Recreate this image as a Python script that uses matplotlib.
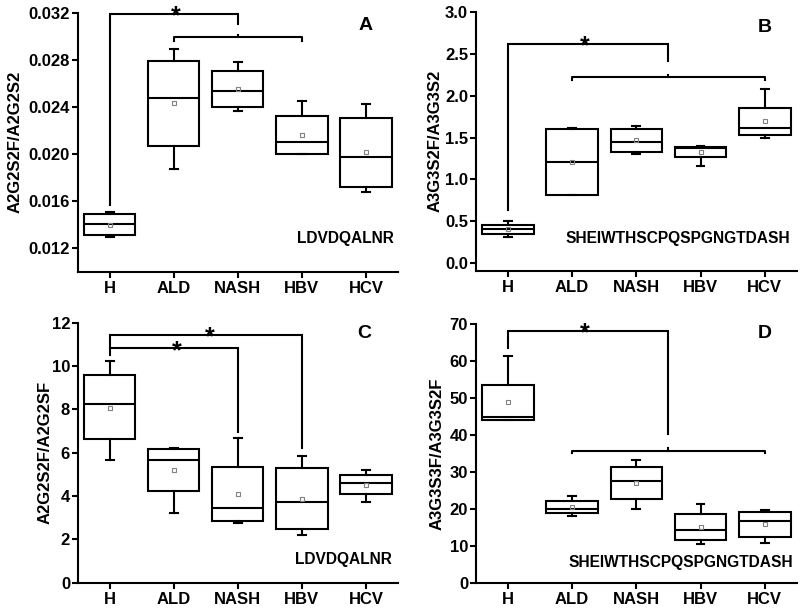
import matplotlib
matplotlib.use("Agg")
import matplotlib.pyplot as plt
from matplotlib.ticker import FormatStrFormatter

plt.rcParams['font.family'] = ['Liberation Sans', 'DejaVu Sans']
plt.rcParams['font.weight'] = 'bold'
plt.rcParams['axes.labelweight'] = 'bold'

categories = ['H', 'ALD', 'NASH', 'HBV', 'HCV']

# Panel A: A2G2S2F/A2G2S2 (LDVDQALNR)
a_lo   = [0.01298, 0.01875, 0.02365, 0.02000, 0.01675]
a_q1   = [0.01312, 0.02068, 0.02399, 0.02000, 0.01717]
a_med  = [0.01403, 0.02476, 0.02535, 0.02104, 0.01977]
a_q3   = [0.01488, 0.02792, 0.02705, 0.02325, 0.02308]
a_hi   = [0.01505, 0.02892, 0.02779, 0.02450, 0.02422]
a_mean = [0.01400, 0.02430, 0.02550, 0.02164, 0.02014]

# Panel B: A3G3S2F/A3G3S2 (SHEIWTHSCPQSPGNGTDASH)
b_lo   = [0.317, 0.812, 1.300, 1.165, 1.492]
b_q1   = [0.346, 0.815, 1.325, 1.265, 1.531]
b_med  = [0.406, 1.205, 1.451, 1.376, 1.611]
b_q3   = [0.457, 1.603, 1.603, 1.391, 1.857]
b_hi   = [0.508, 1.611, 1.642, 1.403, 2.076]
b_mean = [0.410, 1.205, 1.471, 1.332, 1.698]

# Panel C: A2G2S2F/A2G2SF (LDVDQALNR)
c_lo   = [5.66, 3.23, 2.77, 2.22, 3.71]
c_q1   = [6.62, 4.23, 2.86, 2.46, 4.08]
c_med  = [8.23, 5.66, 3.45, 3.72, 4.60]
c_q3   = [9.57, 6.16, 5.35, 5.28, 4.96]
c_hi   = [10.24, 6.23, 6.69, 5.85, 5.19]
c_mean = [8.08, 5.20, 4.11, 3.88, 4.51]

# Panel D: A3G3S3F/A3G3S2F (SHEIWTHSCPQSPGNGTDASH)
d_lo   = [44.0, 18.25, 19.96, 10.5, 10.9]
d_q1   = [44.1, 18.9, 22.85, 11.7, 12.5]
d_med  = [44.97, 20.05, 27.7, 14.4, 16.7]
d_q3   = [53.5, 22.3, 31.5, 18.7, 19.3]
d_hi   = [61.4, 23.6, 33.4, 21.3, 19.7]
d_mean = [48.85, 20.7, 27.07, 15.1, 16.1]

ylabels = ['A2G2S2F/A2G2S2', 'A3G3S2F/A3G3S2', 'A2G2S2F/A2G2SF', 'A3G3S3F/A3G3S2F']
panel_letters = ['A', 'B', 'C', 'D']
peptides = ['LDVDQALNR', 'SHEIWTHSCPQSPGNGTDASH', 'LDVDQALNR', 'SHEIWTHSCPQSPGNGTDASH']

fig = plt.figure(figsize=(8, 6.08), dpi=100)

LW = 1.5


def draw_box(ax, lo, q1, med, q3, hi, mean):
    stats = []
    for c, l, a, m, b, h, mu in zip(categories, lo, q1, med, q3, hi, mean):
        stats.append(dict(label=c, whislo=l, q1=a, med=m, q3=b, whishi=h,
                          mean=mu, fliers=[]))
    pos = list(range(1, len(categories) + 1))
    ax.bxp(stats, positions=pos, widths=0.8, showmeans=True, showfliers=False,
           patch_artist=True, capwidths=0.12,
           boxprops=dict(facecolor='white', edgecolor='black', linewidth=LW),
           medianprops=dict(color='black', linewidth=LW),
           whiskerprops=dict(color='black', linewidth=LW),
           capprops=dict(color='black', linewidth=LW),
           meanprops=dict(marker='s', markerfacecolor='none',
                          markeredgecolor='#808080', markersize=3.2,
                          markeredgewidth=0.8))


def sig_bracket(ax, x1, x2, y, y1, y2):
    ax.plot([x1, x1, x2, x2], [y1, y, y, y2], color='black', lw=LW,
            clip_on=False, solid_joinstyle='miter')


def group_bracket(ax, x1, x2, y, dn, up):
    xm = (x1 + x2) / 2
    ax.plot([x1, x1, x2, x2], [y - dn, y, y, y - dn], color='black', lw=LW,
            clip_on=False)
    ax.plot([xm, xm], [y, y + up], color='black', lw=LW, clip_on=False)


def star(ax, x, y):
    ax.annotate('*', xy=(x, y), xytext=(0, -7), textcoords='offset points',
                ha='center', va='baseline', fontsize=18, fontweight='bold',
                annotation_clip=False)


def style(ax, ylim, ticks, fmt, ylab, labx):
    ax.set_xlim(0.5, 5.5)
    ax.set_ylim(*ylim)
    ax.set_yticks(ticks)
    ax.yaxis.set_major_formatter(FormatStrFormatter(fmt))
    ax.set_xticks(range(1, 6))
    ax.set_xticklabels(categories)
    for s in ['top', 'right']:
        ax.spines[s].set_visible(False)
    for s in ['left', 'bottom']:
        ax.spines[s].set_linewidth(LW)
    ax.tick_params(axis='y', direction='out', length=4, width=LW,
                   pad=1.5, labelsize=12)
    ax.tick_params(axis='x', direction='out', length=4, width=LW,
                   pad=2.5, labelsize=12)
    ax.set_ylabel(ylab, fontsize=12, fontweight='bold')
    ax.yaxis.set_label_coords(labx, 0.5)


# Panel A
axA = fig.add_axes([0.0971, 0.5531, 0.4004, 0.4260])
draw_box(axA, a_lo, a_q1, a_med, a_q3, a_hi, a_mean)
style(axA, (0.010, 0.032), [0.012, 0.016, 0.020, 0.024, 0.028, 0.032], '%.3f',
      ylabels[0], -0.172)
sig_bracket(axA, 1, 3, 0.0319, 0.01567, 0.03104)
group_bracket(axA, 2, 4, 0.0299, 0.0003, 0.0002)
star(axA, 2.03, 0.0319)
axA.text(5.0, 0.0309, panel_letters[0], ha='center', va='center', fontsize=14,
         fontweight='bold')
axA.text(5.43, 0.0128, peptides[0], ha='right', va='center', fontsize=11.2,
         fontweight='bold')

# Panel B
axB = fig.add_axes([0.5946, 0.5548, 0.4016, 0.4255])
draw_box(axB, b_lo, b_q1, b_med, b_q3, b_hi, b_mean)
style(axB, (-0.09, 3.0), [0.0, 0.5, 1.0, 1.5, 2.0, 2.5, 3.0], '%.1f',
      ylabels[1], -0.104)
sig_bracket(axB, 1, 3.5, 2.617, 0.636, 2.418)
group_bracket(axB, 2, 5, 2.22, 0.033, 0.03)
star(axB, 2.2, 2.617)
axB.text(5.0, 2.82, panel_letters[1], ha='center', va='center', fontsize=14,
         fontweight='bold')
axB.text(5.40, 0.30, peptides[1], ha='right', va='center', fontsize=11.2,
         fontweight='bold')

# Panel C
axC = fig.add_axes([0.0971, 0.0416, 0.4004, 0.4276])
draw_box(axC, c_lo, c_q1, c_med, c_q3, c_hi, c_mean)
style(axC, (0, 12), [0, 2, 4, 6, 8, 10, 12], '%d', ylabels[2], -0.079)
sig_bracket(axC, 1, 4, 11.43, 10.51, 6.2)
sig_bracket(axC, 1, 3, 10.82, 10.82, 6.94)
star(axC, 2.56, 11.43)
star(axC, 2.05, 10.82)
axC.text(4.97, 11.5, panel_letters[2], ha='center', va='center', fontsize=14,
         fontweight='bold')
axC.text(5.40, 1.05, peptides[2], ha='right', va='center', fontsize=11.2,
         fontweight='bold')

# Panel D
axD = fig.add_axes([0.5946, 0.0406, 0.4016, 0.4265])
draw_box(axD, d_lo, d_q1, d_med, d_q3, d_hi, d_mean)
style(axD, (0, 70), [0, 10, 20, 30, 40, 50, 60, 70], '%d', ylabels[3], -0.097)
sig_bracket(axD, 1, 3.5, 68.2, 63.4, 40.3)
group_bracket(axD, 2, 5, 35.8, 0.7, 0.7)
star(axD, 2.19, 68.2)
axD.text(5.0, 67.5, panel_letters[3], ha='center', va='center', fontsize=14,
         fontweight='bold')
axD.text(5.44, 5.6, peptides[3], ha='right', va='center', fontsize=11.2,
         fontweight='bold')

fig.savefig('out.png', dpi=100)
